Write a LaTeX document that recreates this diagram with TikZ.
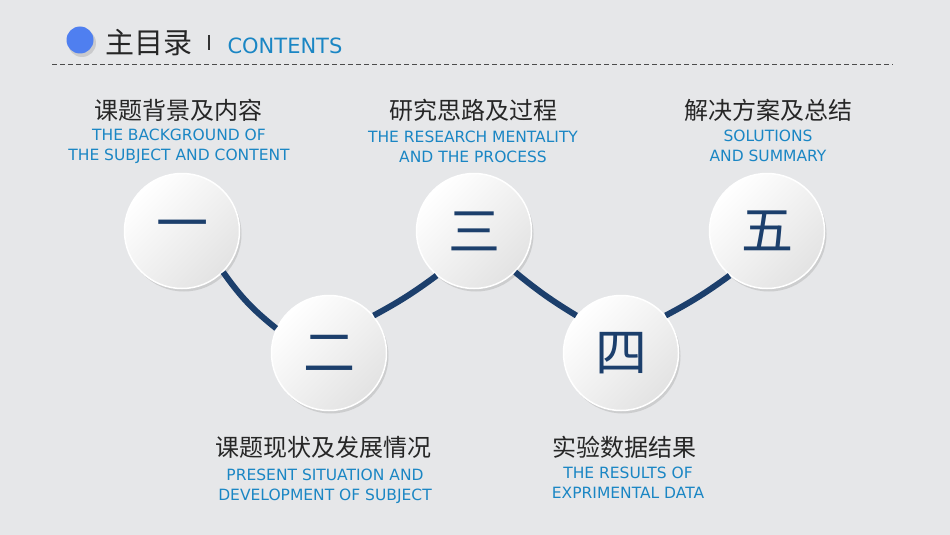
\documentclass[tikz,border=0pt]{standalone}
\usepackage{fontspec}
\setmainfont{DejaVu Sans}
\newfontfamily\cjk{Noto Sans CJK SC}
\usetikzlibrary{shadows}
\definecolor{bg}{HTML}{E6E7E9}
\definecolor{navy}{HTML}{1C3F6C}
\definecolor{lblue}{HTML}{1A86C4}
\definecolor{dot}{HTML}{4F7FF0}
\tikzset{
  ball/.style={circle,minimum size=115pt,inner sep=0pt,draw=white,line width=1.5pt,
    left color=white,right color=gray!22,shading angle=45,
    drop shadow={shadow xshift=2pt,shadow yshift=-3pt,opacity=0.25},
    text=navy,font=\cjk\fontsize{52}{52}\selectfont},
  link/.style={navy,line width=6pt},
  zh/.style={font=\cjk\fontsize{24}{26}\selectfont,text=black!85},
  en/.style={font=\fontsize{15.5}{20}\selectfont,text=lblue,align=center}
}
\begin{document}
\begin{tikzpicture}[x=1pt,y=-1pt]
\fill[bg] (0,0) rectangle (950,535);
\useasboundingbox (0,0) rectangle (950,535);
\fill[black,opacity=0.12] (82,43) circle (14);
\fill[dot] (80,40) circle (13.5) node (dotn) {};
\node[anchor=west,font=\cjk\fontsize{29}{29}\selectfont,text=black!85] (title) at (102,43) {主目录};
\draw[black!80,line width=1.5pt] (209,35) -- (209,50);
\node[anchor=west,font=\fontsize{21}{21}\selectfont,text=lblue] (cont) at (224,46) {CONTENTS};
\draw[black!70,line width=0.8pt,dash pattern=on 5pt off 3pt] (52,64) -- (893,64);
\node[ball] (c1) at (182,231) {一};
\node[ball] (c2) at (329,353) {二};
\node[ball] (c3) at (474,231) {三};
\node[ball] (c4) at (621,353) {四};
\node[ball] (c5) at (767,231) {五};
\draw[link] (c1.-45) to[bend right=8] (c2.155);
\draw[link] (c2.40) to[bend right=4] (c3.-130);
\draw[link] (c3.-45) to[bend right=4] (c4.140);
\draw[link] (c4.40) to[bend right=4] (c5.-130);
\node[zh] (t1) at (178,110) {课题背景及内容};
\node[en] (e1) at (179,146) {THE BACKGROUND OF\\THE SUBJECT AND CONTENT};
\node[zh] (t3) at (473,110) {研究思路及过程};
\node[en] (e3) at (473,147) {THE RESEARCH MENTALITY\\AND THE PROCESS};
\node[zh] (t5) at (768,110) {解决方案及总结};
\node[en] (e5) at (768,146) {SOLUTIONS\\AND SUMMARY};
\node[zh] (t2) at (323,447) {课题现状及发展情况};
\node[en] (e2) at (325,486) {PRESENT SITUATION AND\\DEVELOPMENT OF SUBJECT};
\node[zh] (t4) at (624,447) {实验数据结果};
\node[en] (e4) at (628,483) {THE RESULTS OF\\EXPRIMENTAL DATA};
\end{tikzpicture}
\end{document}
